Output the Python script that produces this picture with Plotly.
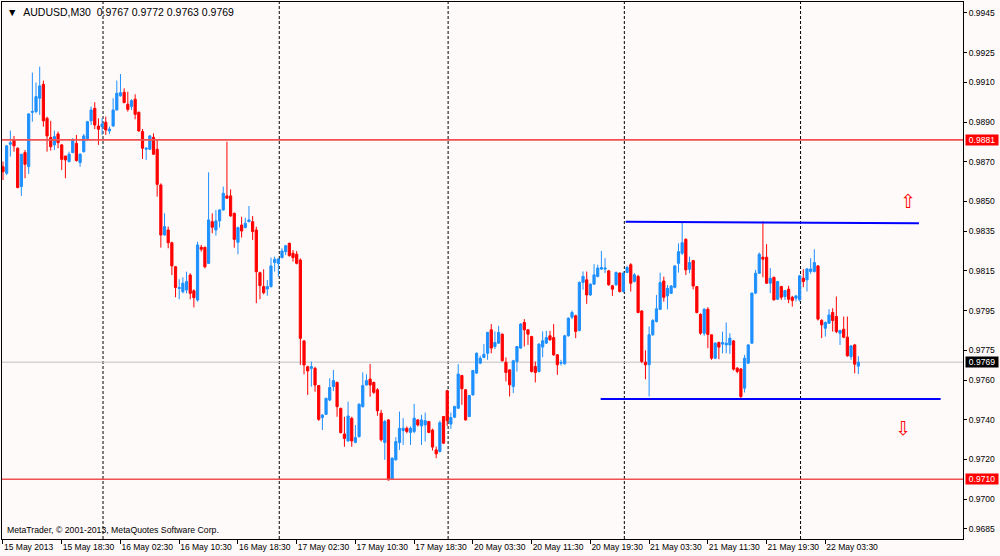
import pandas as pd
import plotly.graph_objects as go

# ---------------- data ----------------
symbol_title = "AUDUSD,M30"
start_time = "2013-05-15 10:30"

opens = [
    .98675, .98642, .98788, .98810, .98768, .98575, .98746, .98675, .98949, .98953,
    .99020, .99090, .98919, .98822, .98785, .98840, .98785, .98729, .98701, .98746,
    .98793, .98696, .98751, .98810, .98906, .98969, .98880, .98877, .98899, .98855,
    .98880, .98961, .99032, .99050, .98990, .98978, .99015, .98949, .98852, .98763,
    .98763, .98823, .98763, .98583, .98331, .98356, .98292, .98171, .98061, .98045,
    .98054, .98129, .98050, .98003, .98269, .98269, .98188, .98398, .98356, .98402,
    .98457, .98528, .98528, .98440, .98294, .98381, .98368, .98398, .98398, .98356,
    .98141, .98071, .98059, .98071, .98192, .98188, .98217, .98247, .98289, .98239,
    .98234, .98205, .97797, .97667, .97659, .97659, .97572, .97411, .97427, .97499,
    .97567, .97588, .97457, .97328, .97293, .97407, .97286, .97315, .97466, .97575,
    .97605, .97588, .97551, .97433, .97285, .97399, .97100, .97198, .97285, .97346,
    .97357, .97336, .97341, .97399, .97369, .97374, .97391, .97348, .97248, .97240,
    .97416, .97546, .97378, .97413, .97458, .97623, .97551, .97416, .97525, .97635,
    .97685, .97714, .97735, .97853, .97769, .97786, .97831, .97690, .97651, .97567,
    .97693, .97761, .97890, .97853, .97819, .97668, .97643, .97766, .97786, .97823,
    .97814, .97727, .97685, .97682, .97823, .97917, .97924, .97850, .98092, .98105,
    .98029, .98083, .98122, .98159, .98159, .98150, .98075, .98080, .98139, .98046,
    .98142, .98181, .98097, .98122, .97948, .97690, .97677, .97828, .97895, .97956,
    .98099, .98024, .98037, .98067, .98188, .98239, .98309, .98158, .98202, .98071,
    .97931, .97836, .97957, .97828, .97710, .97789, .97781, .97777, .97777, .97797,
    .97660, .97656, .97559, .97685, .97786, .98038, .98138, .98219, .98219, .98088,
    .98117, .98007, .98071, .98021, .98058, .98017, .98012, .98004, .98113, .98105,
    .98147, .98147, .98175, .97900, .97861, .97886, .97940, .97920, .97836, .97856,
    .97816, .97718, .97777, .97670,
]

highs = [
    .98701, .98785, .98857, .98830, .98773, .98738, .98759, .98944, .99149, .99099,
    .99179, .99109, .98927, .98906, .98857, .98852, .98790, .98729, .98751, .98818,
    .98835, .98743, .98840, .98906, .98978, .99000, .98919, .98919, .98927, .98877,
    .99020, .99109, .99142, .99070, .99053, .99015, .99040, .98953, .98865, .98773,
    .98835, .98843, .98810, .98591, .98440, .98373, .98297, .98175, .98108, .98118,
    .98146, .98138, .98057, .98297, .98281, .98272, .98647, .98440, .98457, .98460,
    .98575, .98801, .98561, .98444, .98373, .98423, .98418, .98477, .98427, .98373,
    .98146, .98158, .98104, .98217, .98222, .98213, .98264, .98281, .98292, .98255,
    .98250, .98213, .97802, .97672, .97693, .97667, .97575, .97427, .97511, .97609,
    .97651, .97592, .97461, .97415, .97491, .97415, .97373, .97483, .97639, .97629,
    .97681, .97592, .97559, .97450, .97399, .97403, .97211, .97312, .97441, .97408,
    .97366, .97366, .97480, .97403, .97425, .97436, .97394, .97355, .97265, .97395,
    .97419, .97551, .97436, .97470, .97680, .97626, .97554, .97525, .97651, .97739,
    .97722, .97781, .97843, .97882, .97845, .97873, .97835, .97714, .97655, .97702,
    .97772, .97887, .97907, .97856, .97823, .97693, .97786, .97845, .97848, .97848,
    .97882, .97730, .97702, .97828, .97915, .97950, .97929, .98097, .98147, .98147,
    .98088, .98184, .98181, .98251, .98214, .98155, .98080, .98147, .98142, .98147,
    .98176, .98189, .98139, .98130, .97953, .97750, .97870, .97907, .98029, .98141,
    .98121, .98079, .98079, .98180, .98289, .98393, .98314, .98222, .98205, .98074,
    .97936, .97962, .97967, .97828, .97790, .97794, .97844, .97890, .97836, .97802,
    .97665, .97660, .97727, .97781, .98041, .98155, .98243, .98399, .98285, .98164,
    .98122, .98100, .98075, .98054, .98075, .98024, .98029, .98130, .98159, .98164,
    .98214, .98259, .98180, .97907, .97895, .97957, .97962, .98021, .97853, .97920,
    .97920, .97777, .97782, .97720,
]

lows = [
    .98608, .98633, .98726, .98751, .98566, .98528, .98617, .98638, .98902, .98944,
    .98936, .98877, .98751, .98756, .98759, .98768, .98659, .98617, .98696, .98743,
    .98701, .98675, .98746, .98806, .98885, .98865, .98785, .98835, .98835, .98840,
    .98877, .98958, .99028, .98995, .98953, .98961, .98914, .98852, .98714, .98709,
    .98759, .98734, .98524, .98267, .98328, .98264, .98129, .98017, .98007, .98037,
    .98037, .98007, .97966, .97995, .98247, .98163, .98185, .98340, .98328, .98368,
    .98454, .98516, .98423, .98267, .98234, .98318, .98365, .98395, .98306, .97987,
    .98007, .98032, .98025, .98066, .98146, .98121, .98213, .98230, .98222, .98197,
    .98183, .97676, .97629, .97525, .97567, .97541, .97394, .97348, .97424, .97494,
    .97545, .97415, .97331, .97264, .97289, .97264, .97281, .97310, .97461, .97572,
    .97516, .97530, .97420, .97290, .97198, .97094, .97097, .97194, .97248, .97273,
    .97332, .97273, .97332, .97366, .97273, .97290, .97332, .97245, .97206, .97235,
    .97278, .97369, .97354, .97408, .97455, .97475, .97396, .97413, .97522, .97631,
    .97680, .97710, .97702, .97735, .97756, .97782, .97693, .97593, .97517, .97534,
    .97643, .97757, .97769, .97777, .97638, .97588, .97638, .97715, .97782, .97798,
    .97722, .97626, .97673, .97677, .97819, .97907, .97811, .97845, .98055, .97984,
    .98024, .98080, .98117, .98155, .98139, .98075, .98024, .98075, .98041, .98041,
    .98139, .98046, .98092, .97937, .97685, .97604, .97517, .97823, .97890, .97953,
    .97995, .97956, .98034, .98062, .98141, .98230, .98129, .98138, .98057, .97936,
    .97828, .97823, .97760, .97702, .97705, .97705, .97735, .97735, .97732, .97648,
    .97634, .97500, .97537, .97681, .97782, .98033, .98135, .98118, .98085, .98038,
    .98001, .98004, .98004, .98004, .97987, .97970, .97996, .97996, .98068, .98046,
    .98135, .98142, .97900, .97811, .97819, .97883, .97844, .97836, .97777, .97811,
    .97718, .97702, .97634, .97630,
]

closes = [
    .98650, .98780, .98796, .98780, .98570, .98738, .98687, .98941, .98953, .99028,
    .99082, .98906, .98830, .98776, .98827, .98796, .98712, .98709, .98738, .98813,
    .98706, .98738, .98830, .98902, .98961, .98885, .98864, .98890, .98860, .98865,
    .98961, .99045, .99048, .98998, .98964, .99008, .98939, .98855, .98768, .98768,
    .98830, .98738, .98586, .98331, .98373, .98292, .98175, .98066, .98066, .98088,
    .98096, .98037, .98015, .98281, .98259, .98171, .98407, .98370, .98402, .98457,
    .98541, .98516, .98427, .98309, .98368, .98351, .98390, .98407, .98348, .98146,
    .98076, .98040, .98071, .98175, .98208, .98210, .98250, .98277, .98227, .98217,
    .98188, .97810, .97676, .97646, .97667, .97575, .97402, .97424, .97508, .97562,
    .97597, .97466, .97335, .97306, .97419, .97293, .97310, .97478, .97572, .97597,
    .97575, .97538, .97445, .97299, .97391, .97097, .97206, .97290, .97357, .97357,
    .97341, .97357, .97408, .97374, .97399, .97395, .97336, .97262, .97228, .97385,
    .97282, .97395, .97411, .97467, .97630, .97556, .97399, .97522, .97648, .97735,
    .97710, .97730, .97840, .97761, .97789, .97840, .97697, .97638, .97576, .97697,
    .97769, .97882, .97853, .97831, .97643, .97638, .97781, .97798, .97814, .97803,
    .97727, .97677, .97688, .97823, .97912, .97940, .97845, .98092, .98122, .98029,
    .98083, .98130, .98164, .98167, .98164, .98080, .98058, .98142, .98046, .98139,
    .98167, .98088, .98130, .97940, .97693, .97677, .97828, .97900, .97959, .98091,
    .98017, .98062, .98074, .98175, .98247, .98292, .98155, .98192, .98074, .97940,
    .97836, .97957, .97830, .97710, .97786, .97766, .97789, .97786, .97811, .97655,
    .97643, .97517, .97710, .97777, .98038, .98138, .98234, .98209, .98088, .98113,
    .98004, .98096, .98017, .98051, .98007, .98001, .98024, .98125, .98096, .98160,
    .98160, .98192, .97907, .97878, .97890, .97928, .97900, .97844, .97850, .97816,
    .97722, .97772, .97680, .97690,
]

tick_labels = [
    "15 May 2013", "15 May 18:30", "16 May 02:30", "16 May 10:30", "16 May 18:30",
    "17 May 02:30", "17 May 10:30", "17 May 18:30", "20 May 03:30", "20 May 11:30",
    "20 May 19:30", "21 May 03:30", "21 May 11:30", "21 May 19:30", "22 May 03:30",
]
tick_step = 16

price_ticks = [0.9945, 0.9925, 0.9910, 0.9890, 0.9870, 0.9850, 0.9835, 0.9815,
               0.9795, 0.9775, 0.9760, 0.9740, 0.9720, 0.9700, 0.9685]

red_levels = [0.9881, 0.9710]
bid_price = 0.9769

# chart objects: [bar position start, price start, bar position end, price end]
trend_upper = [169.6, 0.98398, 249.5, 0.98390]
trend_lower = [162.8, 0.97505, 255.4, 0.97505]
arrow_up = [246.6, 0.98500]
arrow_down = [245.2, 0.97359]

x_range = [-0.27, 261.5]
y_range = [0.96799, 0.99505]

# ---------------- helpers ----------------
def bar_times(start, n):
    t = pd.Timestamp(start)
    out = []
    while len(out) < n:
        wd = t.weekday()
        if wd < 5 and not (wd == 4 and t.hour >= 23):
            out.append(t)
        t += pd.Timedelta(minutes=30)
    return out

n = len(closes)
times = bar_times(start_time, n)
xs = list(range(n))
tick_idx = list(range(0, n, tick_step))[:len(tick_labels)]
sep_idx = [i for i in range(1, n) if times[i].date() != times[i - 1].date()]

FONT = "Liberation Sans, Arial, sans-serif"
BG = "#FFFAFA"
BULL = "#1E90FF"
BEAR = "#FF0000"

fig = go.Figure()
fig.add_trace(go.Candlestick(
    x=xs, open=opens, high=highs, low=lows, close=closes,
    increasing=dict(line=dict(color=BULL, width=1), fillcolor=BULL),
    decreasing=dict(line=dict(color=BEAR, width=1), fillcolor=BEAR),
    whiskerwidth=0, hoverinfo="skip", showlegend=False,
))

shapes = []
for i in sep_idx:
    shapes.append(dict(type="line", xref="x", yref="paper", x0=i + 0.25, x1=i + 0.25,
                       y0=0, y1=1, layer="below",
                       line=dict(color="black", width=1, dash="3px,2px")))
shapes.append(dict(type="line", xref="paper", yref="y", x0=0, x1=1, y0=bid_price,
                   y1=bid_price, layer="below", line=dict(color="#C0C0C0", width=1)))
for p in red_levels:
    shapes.append(dict(type="line", xref="paper", yref="y", x0=0, x1=1, y0=p, y1=p,
                       layer="above", line=dict(color="#F05050", width=1.6)))
for tl in (trend_upper, trend_lower):
    shapes.append(dict(type="line", xref="x", yref="y", x0=tl[0], y0=tl[1],
                       x1=tl[2], y1=tl[3], layer="above",
                       line=dict(color="#0000FF", width=2)))

annotations = []
title_text = ("▼\u00a0\u00a0" + symbol_title + "\u00a0\u00a0" +
              " ".join(f"{v:.4f}" for v in (opens[-1], highs[-1], lows[-1], closes[-1])))
annotations.append(dict(xref="paper", yref="paper", x=0, y=1, xanchor="left",
                        yanchor="top", xshift=3, yshift=-2, text=title_text,
                        showarrow=False, font=dict(family=FONT, size=10.5, color="black")))
annotations.append(dict(xref="paper", yref="paper", x=0, y=0, xanchor="left",
                        yanchor="bottom", xshift=3, yshift=2,
                        text="MetaTrader, © 2001-2013, MetaQuotes Software Corp.",
                        showarrow=False, font=dict(family=FONT, size=8.7, color="black")))
for p, bg in [(red_levels[0], "#FF0000"), (red_levels[1], "#FF0000"), (bid_price, "#000000")]:
    annotations.append(dict(xref="paper", yref="y", x=1, y=p, xanchor="left",
                            yanchor="middle", xshift=2, text=f"{p:.4f}", bgcolor=bg,
                            borderpad=0, width=32, height=10, showarrow=False,
                            font=dict(family=FONT, size=8.5, color="white")))
annotations.append(dict(x=arrow_up[0], y=arrow_up[1], text="⇧", showarrow=False,
                        font=dict(family="DejaVu Sans", size=19, color="#FF0000")))
annotations.append(dict(x=arrow_down[0], y=arrow_down[1], text="⇩", showarrow=False,
                        font=dict(family="DejaVu Sans", size=19, color="#FF0000")))

fig.update_layout(
    width=1000, height=556,
    margin=dict(l=2, r=37, t=2, b=17, autoexpand=False),
    paper_bgcolor=BG, plot_bgcolor=BG,
    showlegend=False,
    boxgap=0.25, boxgroupgap=0.2,
    shapes=shapes, annotations=annotations,
    xaxis=dict(range=x_range, tickmode="array", tickvals=tick_idx, ticktext=tick_labels,
               ticks="outside", ticklen=4, tickcolor="black", tickwidth=1,
               ticklabelposition="outside right", tickangle=0, automargin=False,
               showline=True, linecolor="black", linewidth=1, mirror=True,
               showgrid=False, zeroline=False, rangeslider=dict(visible=False),
               tickfont=dict(family=FONT, size=8.5, color="black"), fixedrange=True),
    yaxis=dict(side="right", range=y_range, tickmode="array", tickvals=price_ticks,
               ticktext=[f"{v:.4f}" for v in price_ticks], automargin=False,
               ticks="outside", ticklen=3, tickcolor="black", tickwidth=1,
               showline=True, linecolor="black", linewidth=1, mirror=True,
               showgrid=False, zeroline=False,
               tickfont=dict(family=FONT, size=8.5, color="black"), fixedrange=True),
)

fig.write_html("out.html", config={"displayModeBar": False, "staticPlot": True},
               post_script="document.body.style.margin='0px';"
                           "document.body.style.background='" + BG + "';")
